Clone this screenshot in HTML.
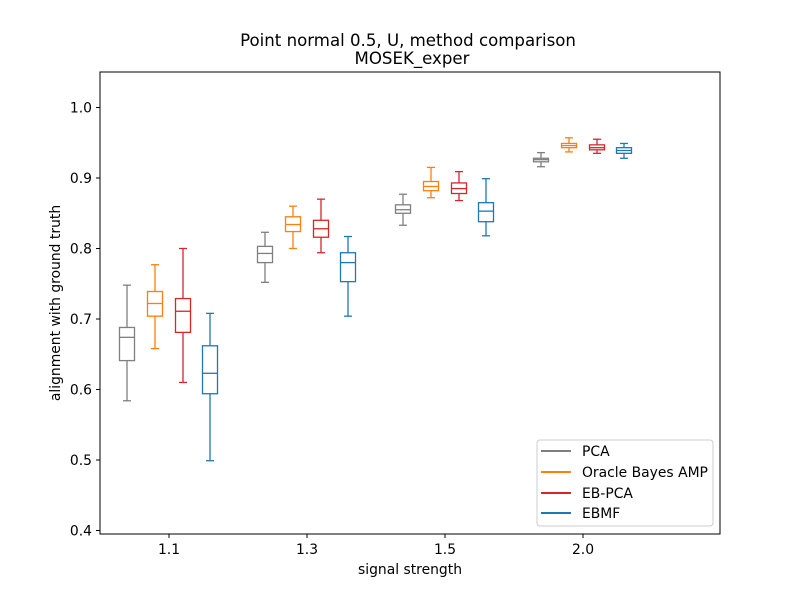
<!DOCTYPE html>
<html><head><meta charset="utf-8"><style>body{margin:0;background:#fff}svg text{font-family:"DejaVu Sans","Liberation Sans",sans-serif}</style></head>
<body>
<svg id="chart" width="800" height="600" xmlns="http://www.w3.org/2000/svg">
<rect width="800" height="600" fill="#fff"/>
<text x="408" y="46" font-size="16.6" text-anchor="middle">Point normal 0.5, U, method comparison</text>
<text x="412" y="64" font-size="16.6" text-anchor="middle">MOSEK_exper</text>
<g id="marks"></g>
<rect x="100" y="72" width="620" height="462" fill="none" stroke="#000" stroke-width="1"/>
<g id="axes"></g>
<text x="410" y="574" font-size="13.9" text-anchor="middle">signal strength</text>
<text transform="translate(60,303) rotate(-90)" font-size="13.9" text-anchor="middle">alignment with ground truth</text>
<g>
<rect x="537" y="440" width="176" height="86" rx="3" fill="#fff" stroke="#ccc"/>
<g><line x1="541" x2="571" y1="451" y2="451" stroke="#7f7f7f" stroke-width="2"/><text x="582" y="456" font-size="13.9">PCA</text></g>
<g><line x1="541" x2="571" y1="472" y2="472" stroke="#ff7f0e" stroke-width="2"/><text x="582" y="477" font-size="13.9">Oracle Bayes AMP</text></g>
<g><line x1="541" x2="571" y1="493" y2="493" stroke="#d62728" stroke-width="2"/><text x="582" y="498" font-size="13.9">EB-PCA</text></g>
<g><line x1="541" x2="571" y1="513" y2="513" stroke="#1f77b4" stroke-width="2"/><text x="582" y="518" font-size="13.9">EBMF</text></g>
</g>
</svg>
<script>
const categories = ["1.1","1.3","1.5","2.0"];
const seriesNames = ["PCA","Oracle Bayes AMP","EB-PCA","EBMF"];
// each box: [low whisker, q1, median, q3, high whisker]
const pcaBoxes = [[0.584,0.641,0.674,0.688,0.748],[0.752,0.780,0.793,0.803,0.823],[0.833,0.850,0.855,0.862,0.877],[0.916,0.923,0.926,0.928,0.936]];
const oracleBoxes = [[0.658,0.704,0.722,0.739,0.777],[0.800,0.824,0.834,0.845,0.860],[0.872,0.882,0.888,0.895,0.915],[0.937,0.943,0.946,0.949,0.957]];
const ebpcaBoxes = [[0.610,0.681,0.711,0.729,0.800],[0.794,0.816,0.828,0.840,0.870],[0.868,0.878,0.885,0.893,0.909],[0.935,0.940,0.943,0.947,0.955]];
const ebmfBoxes = [[0.499,0.594,0.623,0.662,0.708],[0.704,0.753,0.780,0.794,0.817],[0.818,0.838,0.853,0.865,0.899],[0.928,0.935,0.939,0.943,0.949]];
const yTicks = [0.4,0.5,0.6,0.7,0.8,0.9,1.0];

const NS="http://www.w3.org/2000/svg";
const colors=["#7f7f7f","#ff7f0e","#d62728","#1f77b4"];
const offsets=[-42,-14,14,41];
const allSeries=[pcaBoxes,oracleBoxes,ebpcaBoxes,ebmfBoxes];
function y(v){return 107.5+(1.0-v)*705;}
function x(i){return 169+i*138;}
function mk(tag,attrs,parent){const e=document.createElementNS(NS,tag);for(const k in attrs)e.setAttribute(k,attrs[k]);parent.appendChild(e);return e;}
const marks=document.getElementById('marks');
allSeries.forEach((ser,s)=>{
  ser.forEach((b,i)=>{
    const cx=x(i)+offsets[s], c=colors[s];
    const g=mk('g',{},marks);
    
    
    const st={stroke:c,'stroke-width':1.3,fill:'none'};
    mk('line',Object.assign({x1:cx,x2:cx,y1:y(b[4]),y2:y(b[3])},st),g);
    mk('line',Object.assign({x1:cx,x2:cx,y1:y(b[1]),y2:y(b[0])},st),g);
    mk('line',Object.assign({x1:cx-4,x2:cx+4,y1:y(b[4]),y2:y(b[4])},st),g);
    mk('line',Object.assign({x1:cx-4,x2:cx+4,y1:y(b[0]),y2:y(b[0])},st),g);
    mk('rect',Object.assign({x:cx-7.5,y:y(b[3]),width:15,height:y(b[1])-y(b[3])},st),g);
    mk('line',Object.assign({x1:cx-7.5,x2:cx+7.5,y1:y(b[2]),y2:y(b[2])},st),g);
  });
});
const axes=document.getElementById('axes');
yTicks.forEach(t=>{
  const g=mk('g',{},axes);
  
  
  mk('line',{x1:96,x2:100,y1:y(t),y2:y(t),stroke:'#000'},g);
  const tx=mk('text',{x:92,y:y(t)+5,'font-size':13.9,'text-anchor':'end'},g);tx.textContent=t.toFixed(1);
});
categories.forEach((c,i)=>{
  const g=mk('g',{},axes);
  
  
  mk('line',{x1:x(i),x2:x(i),y1:534,y2:538,stroke:'#000'},g);
  const tx=mk('text',{x:x(i),y:554,'font-size':13.9,'text-anchor':'middle'},g);tx.textContent=c;
});
</script>
</body></html>
